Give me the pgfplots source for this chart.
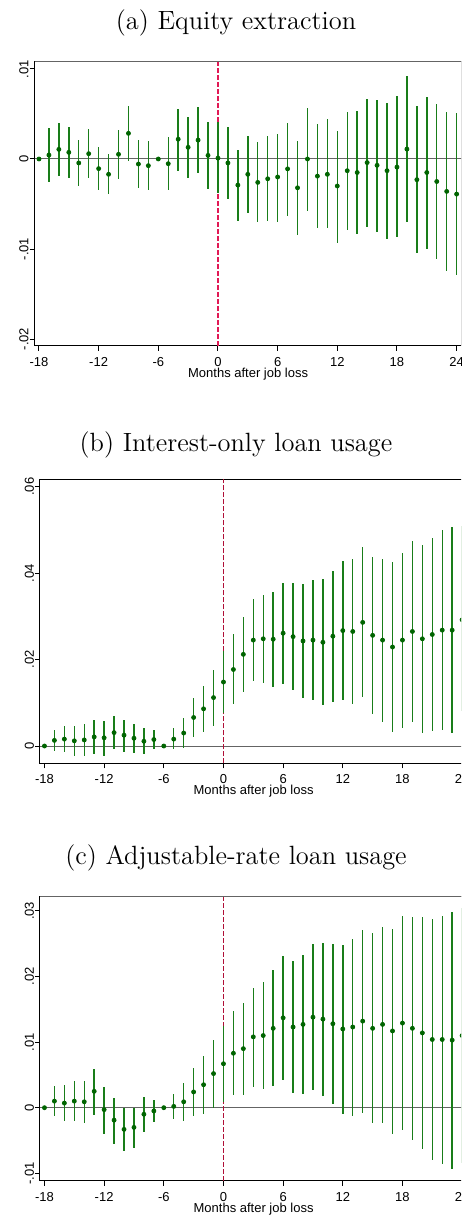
\documentclass[border=0pt]{standalone}
\usepackage{pgfplots}
\usepackage{pgfplotstable}
\usepackage{fontspec}
\pgfplotsset{compat=1.18}
\newfontfamily\arial{Liberation Sans}

\definecolor{ptgreen}{RGB}{0,100,0}
\definecolor{cigreen}{RGB}{25,125,25}
\definecolor{vpink}{RGB}{225,25,85}
\definecolor{vred}{RGB}{175,15,55}
\definecolor{zgray}{RGB}{100,100,100}

% month, estimate, lower and upper CI
\pgfplotstableread{
m b lo hi
-18 0 0 0
-17 0.00044 -0.0025 0.0034
-16 0.00107 -0.0019 0.0040
-15 0.00074 -0.0021 0.0035
-14 -0.00044 -0.0030 0.0021
-13 0.00059 -0.0021 0.0033
-12 -0.00107 -0.0034 0.0013
-11 -0.0017 -0.0039 0.00056
-10 0.00052 -0.0022 0.0032
-9 0.00285 -0.0002 0.0059
-8 -0.00056 -0.0032 0.0021
-7 -0.00074 -0.0034 0.0020
-6 0 0 0
-5 -0.00052 -0.0034 0.0024
-4 0.0022 -0.0013 0.0056
-3 0.0013 -0.0021 0.0047
-2 0.0021 -0.0016 0.0058
-1 0.0004 -0.0033 0.0041
0 0.0001 -0.0038 0.0041
1 -0.00044 -0.0044 0.0036
2 -0.0029 -0.0069 0.0010
3 -0.0017 -0.0060 0.0026
4 -0.0026 -0.0070 0.0019
5 -0.0022 -0.0069 0.0025
6 -0.0020 -0.0070 0.0028
7 -0.0011 -0.0063 0.0040
8 -0.0032 -0.0084 0.0020
9 0.0000 -0.0058 0.0057
10 -0.0019 -0.0077 0.0039
11 -0.0017 -0.0077 0.0044
12 -0.0030 -0.0093 0.0031
13 -0.0013 -0.0079 0.0052
14 -0.0015 -0.0083 0.0053
15 -0.0004 -0.0075 0.0067
16 -0.0007 -0.0081 0.0066
17 -0.0013 -0.0089 0.0062
18 -0.0009 -0.0087 0.0070
19 0.0011 -0.0070 0.0092
20 -0.0023 -0.0104 0.0059
21 -0.0015 -0.0100 0.0069
22 -0.0025 -0.0111 0.0061
23 -0.0036 -0.0124 0.0052
24 -0.0039 -0.0129 0.0051
}\tabA

\pgfplotstableread{
m b lo hi
-18 0 0 0
-17 0.0013 -0.0011 0.0036
-16 0.0016 -0.0014 0.0046
-15 0.0012 -0.0022 0.0046
-14 0.0014 -0.0022 0.0050
-13 0.0021 -0.0019 0.0060
-12 0.0019 -0.0022 0.0058
-11 0.0031 -0.0008 0.0069
-10 0.0025 -0.0013 0.0061
-9 0.0018 -0.0017 0.0052
-8 0.0011 -0.0019 0.0042
-7 0.0015 -0.0008 0.0037
-6 0 0 0
-5 0.0016 -0.0008 0.0041
-4 0.0030 -0.0005 0.0065
-3 0.0066 0.0021 0.0110
-2 0.0086 0.0032 0.0139
-1 0.0112 0.0047 0.0176
0 0.0148 0.0076 0.0220
1 0.0177 0.0097 0.0258
2 0.0212 0.0124 0.0299
3 0.0245 0.0151 0.0340
4 0.0248 0.0146 0.0349
5 0.0247 0.0137 0.0357
6 0.0261 0.0143 0.0377
7 0.0253 0.0129 0.0376
8 0.0243 0.0112 0.0374
9 0.0245 0.0107 0.0384
10 0.0240 0.0094 0.0386
11 0.0254 0.0101 0.0405
12 0.0267 0.0107 0.0427
13 0.0265 0.0098 0.0433
14 0.0286 0.0113 0.0460
15 0.0256 0.0075 0.0437
16 0.0245 0.0056 0.0433
17 0.0229 0.0033 0.0425
18 0.0245 0.0042 0.0447
19 0.0265 0.0056 0.0475
20 0.0248 0.0031 0.0465
21 0.0258 0.0035 0.0482
22 0.0268 0.0038 0.0500
23 0.0268 0.0031 0.0507
24 0.0292 0.0080 0.0510
}\tabB

\pgfplotstableread{
m b lo hi
-18 0 0 0
-17 0.0010 -0.0013 0.0033
-16 0.0007 -0.0021 0.0035
-15 0.0010 -0.0021 0.0041
-14 0.0009 -0.0023 0.0041
-13 0.0025 -0.0011 0.0059
-12 -0.0003 -0.0040 0.0032
-11 -0.0019 -0.0055 0.0015
-10 -0.0033 -0.0066 0.0000
-9 -0.0030 -0.0062 0.0000
-8 -0.0010 -0.0037 0.0016
-7 -0.0005 -0.0022 0.0012
-6 0 0 0
-5 0.0002 -0.0017 0.0021
-4 0.0009 -0.0020 0.0038
-3 0.0024 -0.0013 0.0060
-2 0.0035 -0.0009 0.0079
-1 0.0052 0.0000 0.0103
0 0.0067 0.0009 0.0124
1 0.0083 0.0019 0.0147
2 0.0090 0.0020 0.0160
3 0.0108 0.0032 0.0183
4 0.0110 0.0028 0.0192
5 0.0121 0.0033 0.0210
6 0.0137 0.0042 0.0231
7 0.0123 0.0022 0.0224
8 0.0127 0.0021 0.0233
9 0.0138 0.0027 0.0249
10 0.0135 0.0018 0.0251
11 0.0128 0.0006 0.0250
12 0.0120 -0.0009 0.0248
13 0.0123 -0.0012 0.0257
14 0.0132 -0.0008 0.0271
15 0.0121 -0.0023 0.0267
16 0.0127 -0.0024 0.0276
17 0.0117 -0.0040 0.0273
18 0.0129 -0.0034 0.0293
19 0.0121 -0.0050 0.0291
20 0.0114 -0.0063 0.0291
21 0.0104 -0.0080 0.0287
22 0.0104 -0.0086 0.0293
23 0.0103 -0.0093 0.0298
24 0.0110 -0.0085 0.0305
}\tabC

\pgfplotsset{
  evstudy/.style={
    scale only axis,
    width=213.6pt, height=142pt,
    anchor=south west,
    xmin=-18.45, xmax=24.51,
    xtick={-18,-12,-6,0,6,12,18,24},
    xticklabels={-18,-12,-6,0,6,12,18,24},
    scaled y ticks=false,
    xtick pos=bottom, ytick pos=left,
    tick align=outside,
    major tick length=2.5pt,
    tick style={black, line width=0.5pt},
    axis line style={black, line width=0.5pt},
    ticklabel style={font=\arial\fontsize{6.5}{7}\selectfont},
    xticklabel style={anchor=north, inner sep=0pt},
    xticklabel shift=3pt,
    yticklabel style={rotate=90, anchor=south},
    yticklabel shift=-3pt,
    xlabel={Months after job loss},
    xlabel style={font=\arial\fontsize{6.5}{7}\selectfont, inner sep=0pt,
      at={(axis description cs:0.5,0)}, anchor=north, yshift=-10.8pt},
  },
  cis/.style={draw=none, mark=none, forget plot,
    error bars/.cd, y dir=both, y explicit, error mark=none,
    error bar style={cigreen, line width=0.7pt}},
  pts/.style={only marks, mark=*, mark size=1pt,
    mark options={fill=ptgreen, draw=ptgreen}},
}
\tikzset{ttl/.style={anchor=base, font=\fontsize{13.2}{16}\selectfont}}

\begin{document}
\begin{tikzpicture}
\useasboundingbox (0pt,0pt) rectangle (230.5pt,608pt);
\clip (0pt,0pt) rectangle (230.5pt,608pt);

% (a)
\node[ttl] at (118pt,593pt) {(a) Equity extraction};
\begin{axis}[evstudy, at={(17.25pt,435.15pt)},
  ymin=-0.02074, ymax=0.01081,
  ytick={-0.02,-0.01,0,0.01}, yticklabels={-.02,-.01,0,.01}]
  \draw[zgray, line width=0.5pt] ({rel axis cs:0,0}|-{axis cs:0,0}) -- ({rel axis cs:1,0}|-{axis cs:0,0});
  \draw[vpink, line width=0.6pt, dash pattern=on 2.5pt off 1pt] ({axis cs:0,0}|-{rel axis cs:0,0}) -- ({axis cs:0,0}|-{rel axis cs:0,1});
  \draw[zgray, line width=0.5pt] (rel axis cs:0,1) -- (rel axis cs:1,1);
  \addplot[cis] table[x=m, y=b, y error plus expr=\thisrow{hi}-\thisrow{b}, y error minus expr=\thisrow{b}-\thisrow{lo}] {\tabA};
  \addplot[pts] table[x=m, y=b] {\tabA};
\end{axis}

% (b)
\node[ttl] at (118pt,382.15pt) {(b) Interest-only loan usage};
\begin{axis}[evstudy, at={(20pt,226.35pt)},
  ymin=-0.0040, ymax=0.0617,
  ytick={0,0.02,0.04,0.06}, yticklabels={0,.02,.04,.06}]
  \draw[zgray, line width=0.5pt] ({rel axis cs:0,0}|-{axis cs:0,0}) -- ({rel axis cs:1,0}|-{axis cs:0,0});
  \draw[vred, line width=0.6pt, dash pattern=on 2.5pt off 1pt] ({axis cs:0,0}|-{rel axis cs:0,0}) -- ({axis cs:0,0}|-{rel axis cs:0,1});
  \addplot[cis] table[x=m, y=b, y error plus expr=\thisrow{hi}-\thisrow{b}, y error minus expr=\thisrow{b}-\thisrow{lo}] {\tabB};
  \addplot[pts] table[x=m, y=b] {\tabB};
\end{axis}

% (c)
\node[ttl] at (118pt,175.5pt) {(c) Adjustable-rate loan usage};
\begin{axis}[evstudy, at={(20pt,17.65pt)},
  ymin=-0.01113, ymax=0.03217,
  ytick={-0.01,0,0.01,0.02,0.03}, yticklabels={-.01,0,.01,.02,.03}]
  \draw[zgray, line width=0.5pt] ({rel axis cs:0,0}|-{axis cs:0,0}) -- ({rel axis cs:1,0}|-{axis cs:0,0});
  \draw[vred, line width=0.6pt, dash pattern=on 2.5pt off 1pt] ({axis cs:0,0}|-{rel axis cs:0,0}) -- ({axis cs:0,0}|-{rel axis cs:0,1});
  \draw[zgray, line width=0.5pt] (rel axis cs:0,1) -- (rel axis cs:1,1);
  \addplot[cis] table[x=m, y=b, y error plus expr=\thisrow{hi}-\thisrow{b}, y error minus expr=\thisrow{b}-\thisrow{lo}] {\tabC};
  \addplot[pts] table[x=m, y=b] {\tabC};
\end{axis}
\end{tikzpicture}
\end{document}
